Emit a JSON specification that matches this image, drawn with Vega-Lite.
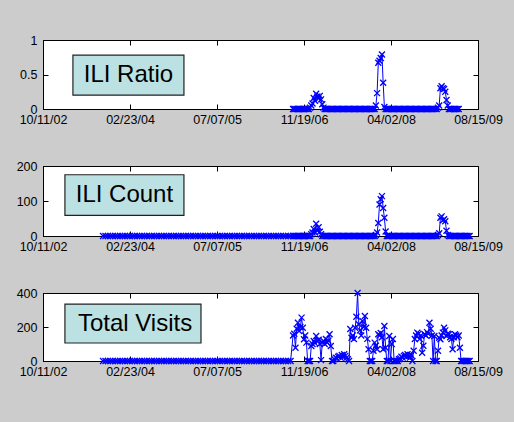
{
"$schema": "https://vega.github.io/schema/vega-lite/v6.json",
"background": "#cccccc",
"padding": {"left": 15, "top": 33, "right": 13, "bottom": 44},
"config": {
  "view": {"stroke": "black", "strokeWidth": 1, "fill": "white"},
  "font": "Liberation Sans",
  "axis": {"labelFont": "Liberation Sans", "labelFontSize": 12.5, "labelColor": "black", "domainColor": "black", "tickColor": "black", "grid": false, "title": null, "tickSize": -5, "domainWidth": 1, "tickWidth": 1},
  "axisX": {"labelPadding": 9, "labelFlush": false, "labelOverlap": false},
  "axisY": {"labelPadding": 11}
},
"datasets": {
"boxes": [
 {"p": 1, "x1": "2003-04-01", "x2": "2004-12-29", "y1": 0.2, "y2": 0.78, "xt": "2004-02-14", "yt": 0.49, "t": "ILI Ratio"},
 {"p": 2, "x1": "2003-02-14", "x2": "2004-12-29", "y1": 59, "y2": 175, "xt": "2004-01-22", "yt": 117, "t": "ILI Count"},
 {"p": 3, "x1": "2003-02-14", "x2": "2005-04-06", "y1": 106, "y2": 335, "xt": "2004-03-23", "yt": 220, "t": "Total Visits"}
],
"main": [
{"d":"2003-09-21","c":0,"v":0},{"d":"2003-10-05","c":0,"v":0},{"d":"2003-10-19","c":0,"v":0},{"d":"2003-11-02","c":0,"v":0},{"d":"2003-11-16","c":0,"v":0},{"d":"2003-11-30","c":0,"v":0},{"d":"2003-12-14","c":0,"v":0},{"d":"2003-12-28","c":0,"v":0},
{"d":"2004-01-11","c":0,"v":0},{"d":"2004-01-25","c":0,"v":0},{"d":"2004-02-08","c":0,"v":0},{"d":"2004-02-22","c":0,"v":0},{"d":"2004-03-07","c":0,"v":0},{"d":"2004-03-21","c":0,"v":0},{"d":"2004-04-04","c":0,"v":0},{"d":"2004-04-18","c":0,"v":0},{"d":"2004-05-02","c":0,"v":0},{"d":"2004-05-16","c":0,"v":0},{"d":"2004-05-30","c":0,"v":0},{"d":"2004-06-13","c":0,"v":0},{"d":"2004-06-27","c":0,"v":0},{"d":"2004-07-11","c":0,"v":0},{"d":"2004-07-25","c":0,"v":0},{"d":"2004-08-08","c":0,"v":0},{"d":"2004-08-22","c":0,"v":0},{"d":"2004-09-05","c":0,"v":0},{"d":"2004-09-19","c":0,"v":0},{"d":"2004-10-03","c":0,"v":0},{"d":"2004-10-17","c":0,"v":0},{"d":"2004-10-31","c":0,"v":0},{"d":"2004-11-14","c":0,"v":0},{"d":"2004-11-28","c":0,"v":0},{"d":"2004-12-12","c":0,"v":0},{"d":"2004-12-26","c":0,"v":0},
{"d":"2005-01-09","c":0,"v":0},{"d":"2005-01-23","c":0,"v":0},{"d":"2005-02-06","c":0,"v":0},{"d":"2005-02-20","c":0,"v":0},{"d":"2005-03-06","c":0,"v":0},{"d":"2005-03-20","c":0,"v":0},{"d":"2005-04-03","c":0,"v":0},{"d":"2005-04-17","c":0,"v":0},{"d":"2005-05-01","c":0,"v":0},{"d":"2005-05-15","c":0,"v":0},{"d":"2005-05-29","c":0,"v":0},{"d":"2005-06-12","c":0,"v":0},{"d":"2005-06-26","c":0,"v":0},{"d":"2005-07-10","c":0,"v":0},{"d":"2005-07-24","c":0,"v":0},{"d":"2005-08-07","c":0,"v":0},{"d":"2005-08-21","c":0,"v":0},{"d":"2005-09-04","c":0,"v":0},{"d":"2005-09-18","c":0,"v":0},{"d":"2005-10-02","c":0,"v":0},{"d":"2005-10-16","c":0,"v":0},{"d":"2005-10-30","c":0,"v":0},{"d":"2005-11-13","c":0,"v":0},{"d":"2005-11-27","c":0,"v":0},{"d":"2005-12-11","c":0,"v":0},{"d":"2005-12-25","c":0,"v":0},
{"d":"2006-01-08","c":0,"v":0},{"d":"2006-01-22","c":0,"v":0},{"d":"2006-02-05","c":0,"v":0},{"d":"2006-02-19","c":0,"v":0},{"d":"2006-03-05","c":0,"v":0},{"d":"2006-03-19","c":0,"v":0},{"d":"2006-04-02","c":0,"v":0},{"d":"2006-04-16","c":0,"v":0},{"d":"2006-04-30","c":0,"v":0},{"d":"2006-05-14","c":0,"v":0},{"d":"2006-05-28","c":0,"v":0},{"d":"2006-06-11","c":0,"v":0},{"d":"2006-06-25","c":0,"v":0},{"d":"2006-07-09","c":0,"v":0},{"d":"2006-07-23","c":0,"v":0},{"d":"2006-08-06","c":0,"v":0},{"d":"2006-08-20","c":0,"v":0},{"d":"2006-09-03","c":0,"v":0},
{"d":"2006-09-17","r":0,"c":0,"v":150},{"d":"2006-09-24","r":0,"c":0,"v":160},{"d":"2006-10-01","r":0,"c":0,"v":78},{"d":"2006-10-08","r":0,"c":0,"v":190},{"d":"2006-10-15","r":0,"c":0,"v":225},{"d":"2006-10-22","r":0,"c":0,"v":176},{"d":"2006-10-29","r":0,"c":0,"v":200},{"d":"2006-11-05","r":0,"c":0,"v":255},{"d":"2006-11-12","r":0,"c":0,"v":196},{"d":"2006-11-19","r":0,"c":0,"v":128},{"d":"2006-11-26","r":0,"c":0,"v":150},{"d":"2006-12-03","r":0,"c":0,"v":108},{"d":"2006-12-10","r":0,"c":0,"v":0},{"d":"2006-12-17","r":0,"c":0,"v":0},{"d":"2006-12-24","r":0.02,"c":0,"v":0},{"d":"2006-12-31","r":0.05,"c":5,"v":88},
{"d":"2007-01-07","r":0.08,"c":10,"v":100},{"d":"2007-01-14","r":0.16,"c":20,"v":118},{"d":"2007-01-21","r":0.12,"c":10,"v":105},{"d":"2007-01-28","r":0.22,"c":35,"v":147},{"d":"2007-02-04","r":0.18,"c":15,"v":118},{"d":"2007-02-11","r":0.15,"c":25,"v":125},{"d":"2007-02-18","r":0.19,"c":12,"v":100},{"d":"2007-02-25","r":0.14,"c":5,"v":5},{"d":"2007-03-04","r":0.07,"c":0,"v":110},{"d":"2007-03-11","r":0.02,"c":0,"v":118},{"d":"2007-03-18","r":0,"c":0,"v":100},{"d":"2007-03-25","r":0,"c":0,"v":129},{"d":"2007-04-01","r":0,"c":0,"v":108},{"d":"2007-04-08","r":0,"c":0,"v":120},{"d":"2007-04-15","r":0,"c":0,"v":157},{"d":"2007-04-22","r":0,"c":0,"v":88},{"d":"2007-04-29","r":0,"c":0,"v":0},{"d":"2007-05-06","r":0,"c":0,"v":0},{"d":"2007-05-13","r":0,"c":0,"v":10},{"d":"2007-05-20","r":0,"c":0,"v":20},{"d":"2007-05-27","r":0,"c":0,"v":15},{"d":"2007-06-03","r":0,"c":0,"v":25},{"d":"2007-06-10","r":0,"c":0,"v":30},{"d":"2007-06-17","r":0,"c":0,"v":20},{"d":"2007-06-24","r":0,"c":0,"v":35},{"d":"2007-07-01","r":0,"c":0,"v":25},{"d":"2007-07-08","r":0,"c":0,"v":40},{"d":"2007-07-15","r":0,"c":0,"v":30},{"d":"2007-07-22","r":0,"c":0,"v":20},{"d":"2007-07-29","r":0,"c":0,"v":10},{"d":"2007-08-05","r":0,"c":0,"v":0},{"d":"2007-08-12","r":0,"c":0,"v":188},{"d":"2007-08-19","r":0,"c":0,"v":137},{"d":"2007-08-26","r":0,"c":0,"v":150},{"d":"2007-09-02","r":0,"c":0,"v":129},{"d":"2007-09-09","r":0,"c":0,"v":196},{"d":"2007-09-16","r":0,"c":0,"v":260},{"d":"2007-09-23","r":0,"c":0,"v":400},{"d":"2007-09-30","r":0,"c":0,"v":216},{"d":"2007-10-07","r":0,"c":0,"v":180},{"d":"2007-10-14","r":0,"c":0,"v":150},{"d":"2007-10-21","r":0,"c":0,"v":235},{"d":"2007-10-28","r":0,"c":0,"v":200},{"d":"2007-11-04","r":0,"c":0,"v":265},{"d":"2007-11-11","r":0,"c":0,"v":196},{"d":"2007-11-18","r":0,"c":0,"v":130},{"d":"2007-11-25","r":0,"c":0,"v":69},{"d":"2007-12-02","r":0,"c":0,"v":0},{"d":"2007-12-09","r":0,"c":0,"v":0},{"d":"2007-12-16","r":0,"c":0,"v":0},{"d":"2007-12-23","r":0,"c":0,"v":60},{"d":"2007-12-30","r":0,"c":0,"v":108},
{"d":"2008-01-06","r":0.05,"c":3,"v":90},{"d":"2008-01-13","r":0.23,"c":10,"v":69},{"d":"2008-01-20","r":0.67,"c":37,"v":157},{"d":"2008-01-27","r":0.7,"c":90,"v":150},{"d":"2008-02-03","r":0.74,"c":105,"v":165},{"d":"2008-02-10","r":0.79,"c":114,"v":140},{"d":"2008-02-17","r":0.38,"c":80,"v":69},{"d":"2008-02-24","r":0.03,"c":52,"v":206},{"d":"2008-03-02","r":0,"c":13,"v":78},{"d":"2008-03-09","r":0,"c":0,"v":0},{"d":"2008-03-16","r":0,"c":0,"v":0},{"d":"2008-03-23","r":0,"c":0,"v":147},{"d":"2008-03-30","r":0,"c":0,"v":0},{"d":"2008-04-06","r":0,"c":0,"v":100},{"d":"2008-04-13","r":0,"c":0,"v":129},{"d":"2008-04-20","r":0,"c":0,"v":0},{"d":"2008-04-27","r":0,"c":0,"v":0},{"d":"2008-05-04","r":0,"c":0,"v":0},{"d":"2008-05-11","r":0,"c":0,"v":0},{"d":"2008-05-18","r":0,"c":0,"v":10},{"d":"2008-05-25","r":0,"c":0,"v":15},{"d":"2008-06-01","r":0,"c":0,"v":25},{"d":"2008-06-08","r":0,"c":0,"v":20},{"d":"2008-06-15","r":0,"c":0,"v":30},{"d":"2008-06-22","r":0,"c":0,"v":35},{"d":"2008-06-29","r":0,"c":0,"v":25},{"d":"2008-07-06","r":0,"c":0,"v":40},{"d":"2008-07-13","r":0,"c":0,"v":30},{"d":"2008-07-20","r":0,"c":0,"v":20},{"d":"2008-07-27","r":0,"c":0,"v":35},{"d":"2008-08-03","r":0,"c":0,"v":0},{"d":"2008-08-10","r":0,"c":0,"v":60},{"d":"2008-08-17","r":0,"c":0,"v":129},{"d":"2008-08-24","r":0,"c":0,"v":150},{"d":"2008-08-31","r":0,"c":0,"v":167},{"d":"2008-09-07","r":0,"c":0,"v":160},{"d":"2008-09-14","r":0,"c":0,"v":129},{"d":"2008-09-21","r":0,"c":0,"v":150},{"d":"2008-09-28","r":0,"c":0,"v":49},{"d":"2008-10-05","r":0,"c":0,"v":90},{"d":"2008-10-12","r":0,"c":0,"v":157},{"d":"2008-10-19","r":0,"c":0,"v":150},{"d":"2008-10-26","r":0,"c":0,"v":170},{"d":"2008-11-02","r":0,"c":0,"v":160},{"d":"2008-11-09","r":0,"c":0,"v":225},{"d":"2008-11-16","r":0,"c":0,"v":190},{"d":"2008-11-23","r":0,"c":0,"v":150},{"d":"2008-11-30","r":0,"c":0,"v":0},{"d":"2008-12-07","r":0,"c":0,"v":147},{"d":"2008-12-14","r":0,"c":0,"v":0},{"d":"2008-12-21","r":0,"c":0,"v":0},{"d":"2008-12-28","r":0.02,"c":3,"v":60},
{"d":"2009-01-04","r":0.05,"c":8,"v":137},{"d":"2009-01-11","r":0.3,"c":52,"v":128},{"d":"2009-01-18","r":0.33,"c":56,"v":150},{"d":"2009-01-25","r":0.3,"c":45,"v":167},{"d":"2009-02-01","r":0.29,"c":48,"v":196},{"d":"2009-02-08","r":0.25,"c":42,"v":180},{"d":"2009-02-15","r":0.13,"c":15,"v":147},{"d":"2009-02-22","r":0.05,"c":3,"v":160},{"d":"2009-03-01","r":0,"c":0,"v":157},{"d":"2009-03-08","r":0,"c":0,"v":140},{"d":"2009-03-15","r":0,"c":0,"v":129},{"d":"2009-03-22","r":0,"c":0,"v":69},{"d":"2009-03-29","r":0,"c":0,"v":140},{"d":"2009-04-05","r":0,"c":0,"v":157},{"d":"2009-04-12","r":0,"c":0,"v":150},{"d":"2009-04-19","r":0,"c":0,"v":140},{"d":"2009-04-26","r":0,"c":0,"v":150},{"d":"2009-05-03","c":0,"v":78},{"d":"2009-05-10","c":0,"v":0},{"d":"2009-05-17","c":0,"v":0},{"d":"2009-05-24","c":0,"v":0},{"d":"2009-05-31","c":0,"v":0},{"d":"2009-06-07","c":0,"v":0},{"d":"2009-06-14","c":0,"v":0},{"d":"2009-06-21","c":0,"v":0},{"d":"2009-06-28","c":0,"v":0}
]
},
"bounds": "flush",
"spacing": 57,
"vconcat": [
 {
  "width": 435, "height": 69,
  "resolve": {"axis": {"x": "independent", "y": "independent"}},
  "layer": [
   {"data": {"name": "boxes"}, "transform": [{"filter": "datum.p == 1"}],
    "mark": {"type": "rect", "fill": "#bce1e3", "stroke": "#222222", "strokeWidth": 1.2},
    "encoding": {
     "x": {"field": "x1", "type": "temporal", "scale": {"type": "utc", "domain": [{"year": 2002, "month": 10, "date": 11, "utc": true}, {"year": 2009, "month": 8, "date": 15, "utc": true}]}, "axis": null},
     "x2": {"field": "x2"},
     "y": {"field": "y1", "type": "quantitative", "scale": {"domain": [0, 1], "nice": false}, "axis": null},
     "y2": {"field": "y2"}}},
   {"data": {"name": "boxes"}, "transform": [{"filter": "datum.p == 1"}],
    "mark": {"type": "text", "font": "Liberation Sans", "fontSize": 24, "color": "black", "align": "center", "baseline": "middle"},
    "encoding": {
     "x": {"field": "xt", "type": "temporal", "axis": null},
     "y": {"field": "yt", "type": "quantitative", "axis": null},
     "text": {"field": "t"}}},
   {"data": {"name": "main"}, "transform": [{"filter": "isValid(datum.r)"}],
    "mark": {"type": "line", "color": "#0000ff", "strokeWidth": 1},
    "encoding": {
     "x": {"field": "d", "type": "temporal", "axis": {"orient": "bottom", "labelExpr": "utcFormat(datum.value, '%m/%d/%y')", "values": [{"year": 2002, "month": 10, "date": 11, "utc": true}, {"year": 2004, "month": 2, "date": 23, "utc": true}, {"year": 2005, "month": 7, "date": 7, "utc": true}, {"year": 2006, "month": 11, "date": 19, "utc": true}, {"year": 2008, "month": 4, "date": 2, "utc": true}, {"year": 2009, "month": 8, "date": 15, "utc": true}]}},
     "y": {"field": "r", "type": "quantitative", "axis": {"orient": "left", "values": [0, 0.5, 1], "format": "~g"}}}},
   {"data": {"name": "main"}, "transform": [{"filter": "isValid(datum.r)"}],
    "mark": {"type": "point", "shape": "M-1,-1L1,1M-1,1L1,-1", "filled": false, "color": "#0000ff", "size": 36, "strokeWidth": 1.3, "opacity": 1},
    "encoding": {
     "x": {"field": "d", "type": "temporal", "axis": {"orient": "top", "labels": false, "domain": false, "values": [{"year": 2002, "month": 10, "date": 11, "utc": true}, {"year": 2004, "month": 2, "date": 23, "utc": true}, {"year": 2005, "month": 7, "date": 7, "utc": true}, {"year": 2006, "month": 11, "date": 19, "utc": true}, {"year": 2008, "month": 4, "date": 2, "utc": true}, {"year": 2009, "month": 8, "date": 15, "utc": true}]}},
     "y": {"field": "r", "type": "quantitative", "axis": {"orient": "right", "labels": false, "domain": false, "values": [0, 0.5, 1]}}}}
  ]
 },
 {
  "width": 435, "height": 70,
  "resolve": {"axis": {"x": "independent", "y": "independent"}},
  "layer": [
   {"data": {"name": "boxes"}, "transform": [{"filter": "datum.p == 2"}],
    "mark": {"type": "rect", "fill": "#bce1e3", "stroke": "#222222", "strokeWidth": 1.2},
    "encoding": {
     "x": {"field": "x1", "type": "temporal", "scale": {"type": "utc", "domain": [{"year": 2002, "month": 10, "date": 11, "utc": true}, {"year": 2009, "month": 8, "date": 15, "utc": true}]}, "axis": null},
     "x2": {"field": "x2"},
     "y": {"field": "y1", "type": "quantitative", "scale": {"domain": [0, 200], "nice": false}, "axis": null},
     "y2": {"field": "y2"}}},
   {"data": {"name": "boxes"}, "transform": [{"filter": "datum.p == 2"}],
    "mark": {"type": "text", "font": "Liberation Sans", "fontSize": 24, "color": "black", "align": "center", "baseline": "middle"},
    "encoding": {
     "x": {"field": "xt", "type": "temporal", "axis": null},
     "y": {"field": "yt", "type": "quantitative", "axis": null},
     "text": {"field": "t"}}},
   {"data": {"name": "main"},
    "mark": {"type": "line", "color": "#0000ff", "strokeWidth": 1},
    "encoding": {
     "x": {"field": "d", "type": "temporal", "axis": {"orient": "bottom", "labelExpr": "utcFormat(datum.value, '%m/%d/%y')", "values": [{"year": 2002, "month": 10, "date": 11, "utc": true}, {"year": 2004, "month": 2, "date": 23, "utc": true}, {"year": 2005, "month": 7, "date": 7, "utc": true}, {"year": 2006, "month": 11, "date": 19, "utc": true}, {"year": 2008, "month": 4, "date": 2, "utc": true}, {"year": 2009, "month": 8, "date": 15, "utc": true}]}},
     "y": {"field": "c", "type": "quantitative", "axis": {"orient": "left", "values": [0, 100, 200]}}}},
   {"data": {"name": "main"},
    "mark": {"type": "point", "shape": "M-1,-1L1,1M-1,1L1,-1", "filled": false, "color": "#0000ff", "size": 36, "strokeWidth": 1.3, "opacity": 1},
    "encoding": {
     "x": {"field": "d", "type": "temporal", "axis": {"orient": "top", "labels": false, "domain": false, "values": [{"year": 2002, "month": 10, "date": 11, "utc": true}, {"year": 2004, "month": 2, "date": 23, "utc": true}, {"year": 2005, "month": 7, "date": 7, "utc": true}, {"year": 2006, "month": 11, "date": 19, "utc": true}, {"year": 2008, "month": 4, "date": 2, "utc": true}, {"year": 2009, "month": 8, "date": 15, "utc": true}]}},
     "y": {"field": "c", "type": "quantitative", "axis": {"orient": "right", "labels": false, "domain": false, "values": [0, 100, 200]}}}}
  ]
 },
 {
  "width": 435, "height": 68,
  "resolve": {"axis": {"x": "independent", "y": "independent"}},
  "layer": [
   {"data": {"name": "boxes"}, "transform": [{"filter": "datum.p == 3"}],
    "mark": {"type": "rect", "fill": "#bce1e3", "stroke": "#222222", "strokeWidth": 1.2},
    "encoding": {
     "x": {"field": "x1", "type": "temporal", "scale": {"type": "utc", "domain": [{"year": 2002, "month": 10, "date": 11, "utc": true}, {"year": 2009, "month": 8, "date": 15, "utc": true}]}, "axis": null},
     "x2": {"field": "x2"},
     "y": {"field": "y1", "type": "quantitative", "scale": {"domain": [0, 400], "nice": false}, "axis": null},
     "y2": {"field": "y2"}}},
   {"data": {"name": "boxes"}, "transform": [{"filter": "datum.p == 3"}],
    "mark": {"type": "text", "font": "Liberation Sans", "fontSize": 24, "color": "black", "align": "center", "baseline": "middle"},
    "encoding": {
     "x": {"field": "xt", "type": "temporal", "axis": null},
     "y": {"field": "yt", "type": "quantitative", "axis": null},
     "text": {"field": "t"}}},
   {"data": {"name": "main"},
    "mark": {"type": "line", "color": "#0000ff", "strokeWidth": 1},
    "encoding": {
     "x": {"field": "d", "type": "temporal", "axis": {"orient": "bottom", "labelExpr": "utcFormat(datum.value, '%m/%d/%y')", "values": [{"year": 2002, "month": 10, "date": 11, "utc": true}, {"year": 2004, "month": 2, "date": 23, "utc": true}, {"year": 2005, "month": 7, "date": 7, "utc": true}, {"year": 2006, "month": 11, "date": 19, "utc": true}, {"year": 2008, "month": 4, "date": 2, "utc": true}, {"year": 2009, "month": 8, "date": 15, "utc": true}]}},
     "y": {"field": "v", "type": "quantitative", "axis": {"orient": "left", "values": [0, 200, 400]}}}},
   {"data": {"name": "main"},
    "mark": {"type": "point", "shape": "M-1,-1L1,1M-1,1L1,-1", "filled": false, "color": "#0000ff", "size": 36, "strokeWidth": 1.3, "opacity": 1},
    "encoding": {
     "x": {"field": "d", "type": "temporal", "axis": {"orient": "top", "labels": false, "domain": false, "values": [{"year": 2002, "month": 10, "date": 11, "utc": true}, {"year": 2004, "month": 2, "date": 23, "utc": true}, {"year": 2005, "month": 7, "date": 7, "utc": true}, {"year": 2006, "month": 11, "date": 19, "utc": true}, {"year": 2008, "month": 4, "date": 2, "utc": true}, {"year": 2009, "month": 8, "date": 15, "utc": true}]}},
     "y": {"field": "v", "type": "quantitative", "axis": {"orient": "right", "labels": false, "domain": false, "values": [0, 200, 400]}}}}
  ]
 }
]
}
